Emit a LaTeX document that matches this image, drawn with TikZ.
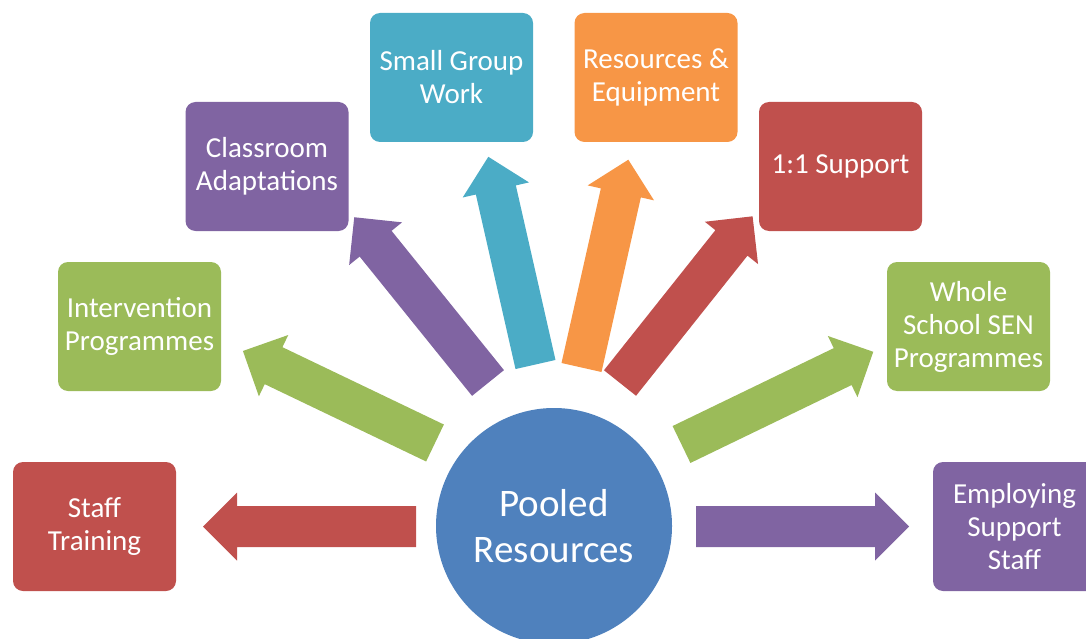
\documentclass[tikz,border=0pt]{standalone}
\usepackage{fontspec}
\setmainfont{Carlito}
\definecolor{cred}{HTML}{C0504D}
\definecolor{cgreen}{HTML}{9BBB59}
\definecolor{cpurple}{HTML}{8064A2}
\definecolor{caqua}{HTML}{4BACC6}
\definecolor{corange}{HTML}{F79646}
\definecolor{cblue}{HTML}{4F81BD}
\newcommand{\blockarrow}[3]{\fill[#1, shift={(#2)}, rotate=#3] (0,-20.5)--(179,-20.5)--(179,-34)--(213,0)--(179,34)--(179,20.5)--(0,20.5)--cycle;}
\begin{document}
\begin{tikzpicture}[x=1pt, y=-1pt,
  box/.style={rectangle, rounded corners=10pt, minimum width=163pt, minimum height=129pt,
    inner sep=0pt, align=center, text=white, font=\fontsize{29}{33}\selectfont},
  hub/.style={circle, fill=cblue, minimum size=236pt, inner sep=0pt, align=center,
    text=white, font=\fontsize{39}{46}\selectfont}]
\useasboundingbox (0,0) rectangle (1086,639);
\clip (0,0) rectangle (1086,639);
\node[hub] (pool) at (554,526) {Pooled\\Resources};
\node[box, fill=cred] (staff) at (94.5,526.5) {Staff\\Training};
\node[box, fill=cgreen] (interv) at (139.5,326.5) {Intervention\\Programmes};
\node[box, fill=cpurple] (class) at (267,166.5) {Classroom\\Adaptations};
\node[box, fill=caqua] (small) at (451.5,77.5) {Small Group\\Work};
\node[box, fill=corange] (equip) at (656,77.5) {Resources \&\\Equipment};
\node[box, fill=cred] (onetoone) at (840.5,166.5) {1:1 Support};
\node[box, fill=cgreen] (whole) at (968.5,326.5) {Whole\\School SEN\\Programmes};
\node[box, fill=cpurple] (employ) at (1014.5,526.5) {Employing\\Support\\Staff};
\coordinate (t1) at (416,526.5);
\coordinate (t2) at (435,443);
\coordinate (t3) at (488,383);
\coordinate (t4) at (535.5,364.5);
\coordinate (t5) at (581.5,367.5);
\coordinate (t6) at (620,383);
\coordinate (t7) at (681.5,444.5);
\coordinate (t8) at (696,526.5);
\blockarrow{cred}{t1}{180}
\blockarrow{cgreen}{t2}{154.4}
\blockarrow{cpurple}{t3}{128.9}
\blockarrow{caqua}{t4}{102.8}
\blockarrow{corange}{t5}{77.3}
\blockarrow{cred}{t6}{51.5}
\blockarrow{cgreen}{t7}{25.8}
\blockarrow{cpurple}{t8}{0}
\end{tikzpicture}
\end{document}
